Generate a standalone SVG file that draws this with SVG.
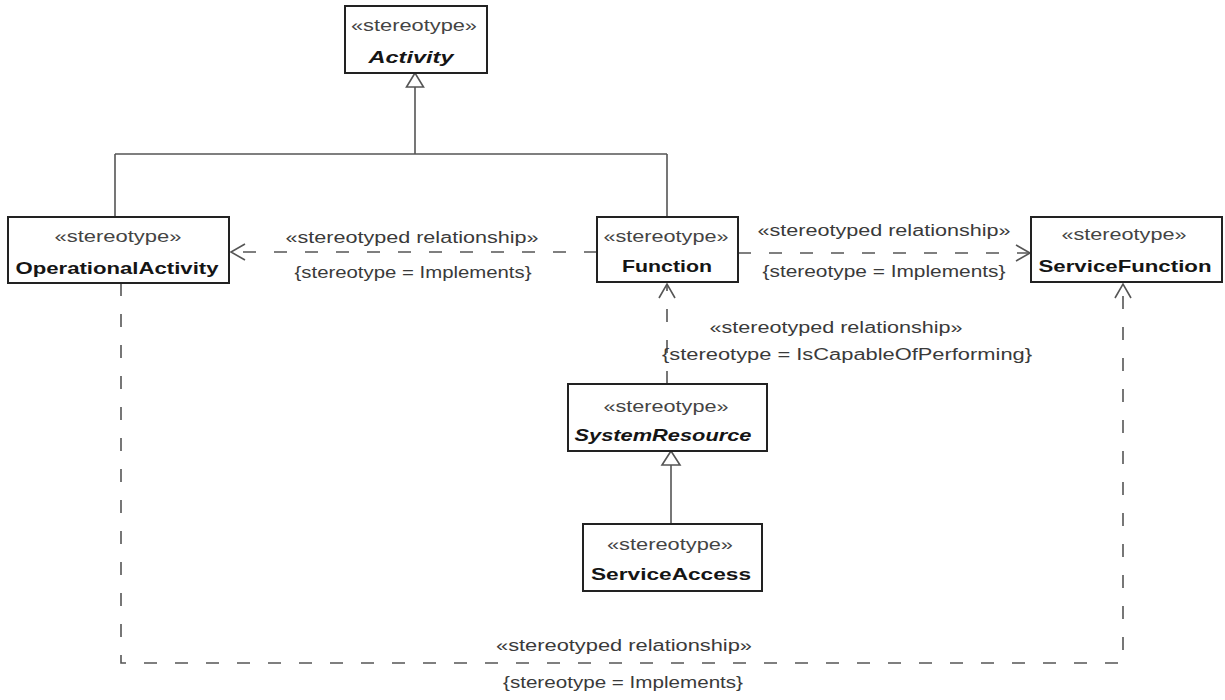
<svg xmlns="http://www.w3.org/2000/svg" width="1225" height="700" viewBox="0 0 1225 700">
<style>
  .box { fill:#ffffff; stroke:#222222; stroke-width:2; }
  .st { font-family:"Liberation Sans", Arial, sans-serif; font-size:16px; fill:#444444; text-anchor:middle; }
  .nm { font-family:"Liberation Sans", Arial, sans-serif; font-size:17px; font-weight:bold; fill:#151515; text-anchor:middle; }
  .it { font-style:italic; }
  .lb { font-family:"Liberation Sans", Arial, sans-serif; font-size:16px; fill:#3a3a3a; text-anchor:middle; }
  .solid { fill:none; stroke:#555555; stroke-width:1.6; }
  .dash { fill:none; stroke:#555555; stroke-width:1.6; stroke-dasharray:13 18; }
  .tri { fill:#ffffff; stroke:#555555; stroke-width:1.6; }
</style>
<defs>
  <marker id="open" markerUnits="userSpaceOnUse" markerWidth="1" markerHeight="1" refX="0" refY="0" orient="auto" overflow="visible">
    <path d="M-14,-8 L0,0 L-14,8" fill="none" stroke="#555555" stroke-width="1.6"/>
  </marker>
</defs>
<rect width="1225" height="700" fill="#ffffff"/>

<g id="connectors">
  <!-- generalization to Activity -->
  <path class="solid" d="M415,87 V154 M115,154 H667 M115,154 V217 M667,154 V217"/>
  <polygon class="tri" points="415,73 406.5,87 423.5,87"/>
  <!-- Function -> OperationalActivity -->
  <line class="dash" x1="597" y1="252" x2="231" y2="252" marker-end="url(#open)"/>
  <!-- Function -> ServiceFunction -->
  <line class="dash" x1="738" y1="253" x2="1030" y2="253" marker-end="url(#open)"/>
  <!-- SystemResource -> Function -->
  <line class="dash" x1="667" y1="384" x2="667" y2="284" marker-end="url(#open)"/>
  <!-- ServiceAccess generalization to SystemResource -->
  <line class="solid" x1="671" y1="524" x2="671" y2="465"/>
  <polygon class="tri" points="671,451 662,465 680,465"/>
  <!-- OperationalActivity -> ServiceFunction -->
  <polyline class="dash" points="121,283 121,663 1123,663 1123,284" marker-end="url(#open)"/>

  <text class="lb" x="412" y="243" textLength="253" lengthAdjust="spacingAndGlyphs">«stereotyped relationship»</text>
  <text class="lb" x="413" y="278" textLength="237" lengthAdjust="spacingAndGlyphs">{stereotype = Implements}</text>
  <text class="lb" x="884" y="236" textLength="253" lengthAdjust="spacingAndGlyphs">«stereotyped relationship»</text>
  <text class="lb" x="884" y="277" textLength="243" lengthAdjust="spacingAndGlyphs">{stereotype = Implements}</text>
  <text class="lb" x="836" y="333" textLength="253" lengthAdjust="spacingAndGlyphs">«stereotyped relationship»</text>
  <text class="lb" x="847" y="360" textLength="370" lengthAdjust="spacingAndGlyphs">{stereotype = IsCapableOfPerforming}</text>
  <text class="lb" x="624" y="651" textLength="256" lengthAdjust="spacingAndGlyphs">«stereotyped relationship»</text>
  <text class="lb" x="623" y="688" textLength="240" lengthAdjust="spacingAndGlyphs">{stereotype = Implements}</text>
</g>

<g id="Activity">
  <rect class="box" x="345" y="6" width="142" height="67"/>
  <text class="st" x="414" y="31" textLength="126" lengthAdjust="spacingAndGlyphs">«stereotype»</text>
  <text class="nm it" x="411" y="63" textLength="85" lengthAdjust="spacingAndGlyphs">Activity</text>
</g>

<g id="OperationalActivity">
  <rect class="box" x="8" y="217" width="221" height="66"/>
  <text class="st" x="118" y="242" textLength="127" lengthAdjust="spacingAndGlyphs">«stereotype»</text>
  <text class="nm" x="117" y="274" textLength="203" lengthAdjust="spacingAndGlyphs">OperationalActivity</text>
</g>

<g id="Function">
  <rect class="box" x="597" y="217" width="141" height="65"/>
  <text class="st" x="666" y="242" textLength="125" lengthAdjust="spacingAndGlyphs">«stereotype»</text>
  <text class="nm" x="667" y="272" textLength="90" lengthAdjust="spacingAndGlyphs">Function</text>
</g>

<g id="ServiceFunction">
  <rect class="box" x="1031" y="217" width="191" height="65"/>
  <text class="st" x="1124" y="240" textLength="125" lengthAdjust="spacingAndGlyphs">«stereotype»</text>
  <text class="nm" x="1125" y="272" textLength="173" lengthAdjust="spacingAndGlyphs">ServiceFunction</text>
</g>

<g id="SystemResource">
  <rect class="box" x="568" y="384" width="199" height="67"/>
  <text class="st" x="666" y="412" textLength="125" lengthAdjust="spacingAndGlyphs">«stereotype»</text>
  <text class="nm it" x="663" y="441" textLength="177" lengthAdjust="spacingAndGlyphs">SystemResource</text>
</g>

<g id="ServiceAccess">
  <rect class="box" x="583" y="524" width="179" height="67"/>
  <text class="st" x="670" y="550" textLength="126" lengthAdjust="spacingAndGlyphs">«stereotype»</text>
  <text class="nm" x="671" y="580" textLength="160" lengthAdjust="spacingAndGlyphs">ServiceAccess</text>
</g>
</svg>
